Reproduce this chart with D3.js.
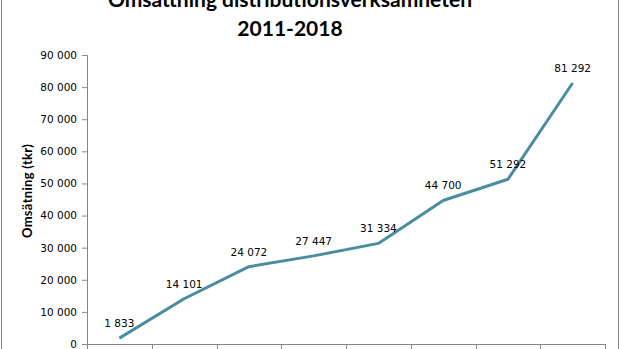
<!DOCTYPE html>
<html>
<head>
<meta charset="utf-8">
<script src="https://cdn.jsdelivr.net/npm/d3@7"></script>
<style>
  html, body { margin: 0; padding: 0; background: #fff; }
  svg { display: block; }
</style>
</head>
<body>
<svg id="chart" width="621" height="349"></svg>
<script>
// Revenue of the distribution business per year (tkr)
const years = ["2011", "2012", "2013", "2014", "2015", "2016", "2017", "2018"];
const revenue = [1833, 14101, 24072, 27447, 31334, 44700, 51292, 81292];
const yTicks = [0, 10000, 20000, 30000, 40000, 50000, 60000, 70000, 80000, 90000];
const titleLines = ["Omsättning distributionsverksamheten", "2011-2018"];
const yTitle = "Omsätning (tkr)";

const svg = d3.select("#chart");
const W = 621, H = 349;

// Chart frame (extends beyond the visible area)
svg.append("rect")
  .attr("x", 1.5).attr("y", -40)
  .attr("width", 617).attr("height", H + 80)
  .attr("fill", "#fff")
  .attr("stroke", "#868686").attr("stroke-width", 1);

const plot = { left: 87, right: 605, top: 55, bottom: 344 };

const x = d3.scaleBand().domain(years).range([plot.left, plot.right]);
const y = d3.scaleLinear().domain([0, 90000]).range([plot.bottom, plot.top]);

// Swedish number format: space as thousands separator
const fmt = v => d3.format(",")(v).replace(/,/g, "\u00a0");

// Title
const title = svg.append("text")
  .attr("text-anchor", "middle")
  .attr("font-family", "Lato, 'Open Sans', sans-serif")
  .attr("font-weight", "bold")
  .attr("font-size", 21)
  .attr("fill", "#000");
title.selectAll("tspan").data(titleLines).join("tspan")
  .attr("x", 290)
  .attr("y", (d, i) => 7 + i * 29)
  .text(d => d);

// Y axis
const yAxis = svg.append("g")
  .attr("transform", `translate(${plot.left},0)`)
  .call(d3.axisLeft(y).tickValues(yTicks).tickSize(5).tickPadding(5).tickFormat(fmt));
yAxis.select(".domain").attr("stroke", "#868686");
yAxis.selectAll(".tick line").attr("stroke", "#868686");
yAxis.selectAll(".tick text")
  .attr("font-family", "'DejaVu Sans', Verdana, sans-serif")
  .attr("font-size", 10.5)
  .attr("fill", "#000");

// X axis: baseline with tick marks between categories
const xAxis = svg.append("g");
xAxis.append("line")
  .attr("x1", plot.left).attr("x2", plot.right)
  .attr("y1", plot.bottom + 0.5).attr("y2", plot.bottom + 0.5)
  .attr("stroke", "#868686");
const bounds = years.map(d => x(d)).concat([x(years[years.length - 1]) + x.bandwidth()]);
xAxis.selectAll("line.tick").data(bounds).join("line")
  .attr("class", "tick")
  .attr("x1", d => Math.round(d) + 0.5).attr("x2", d => Math.round(d) + 0.5)
  .attr("y1", plot.bottom).attr("y2", plot.bottom + 6)
  .attr("stroke", "#868686");

// Y axis title
svg.append("text")
  .attr("transform", "translate(32,191) rotate(-90)")
  .attr("text-anchor", "middle")
  .attr("font-family", "Lato, 'Open Sans', sans-serif")
  .attr("font-weight", "bold")
  .attr("font-size", 13)
  .attr("letter-spacing", 0.3)
  .attr("fill", "#000")
  .text(yTitle);

// Revenue line
const cx = d => x(d) + x.bandwidth() / 2;
const data = years.map((yr, i) => ({ yr, v: revenue[i] }));
svg.append("path")
  .datum(data)
  .attr("fill", "none")
  .attr("stroke", "#4a8d9f")
  .attr("stroke-width", 3)
  .attr("stroke-linejoin", "round")
  .attr("d", d3.line().x(d => cx(d.yr)).y(d => y(d.v)));

// Value labels above each point
svg.append("g").selectAll("text").data(data).join("text")
  .attr("x", d => cx(d.yr))
  .attr("y", d => y(d.v) - 11)
  .attr("text-anchor", "middle")
  .attr("font-family", "'DejaVu Sans', Verdana, sans-serif")
  .attr("font-size", 10.5)
  .attr("fill", "#000")
  .text(d => fmt(d.v));
</script>
</body>
</html>
